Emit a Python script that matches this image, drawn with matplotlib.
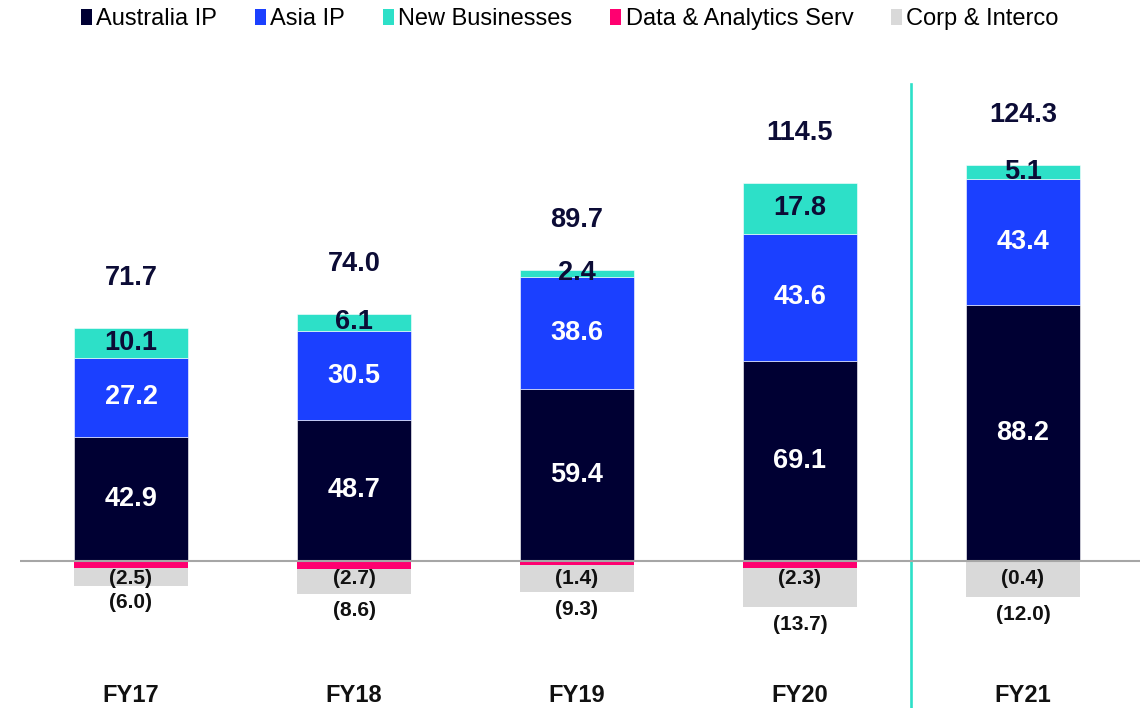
import matplotlib
matplotlib.use("Agg")
import matplotlib.pyplot as plt
from matplotlib.patches import Patch
import numpy as np

plt.rcParams['font.family'] = ['Liberation Sans', 'DejaVu Sans']

categories = ["FY17", "FY18", "FY19", "FY20", "FY21"]
australia_ip = [42.9, 48.7, 59.4, 69.1, 88.2]
asia_ip = [27.2, 30.5, 38.6, 43.6, 43.4]
new_businesses = [10.1, 6.1, 2.4, 17.8, 5.1]
data_analytics = [-2.5, -2.7, -1.4, -2.3, -0.4]
corp_interco = [-6.0, -8.6, -9.3, -13.7, -12.0]
totals = [71.7, 74.0, 89.7, 114.5, 124.3]

c_aus = "#000033"
c_asia = "#1b40ff"
c_new = "#2de0c8"
c_da = "#ff0070"
c_corp = "#d9d9d9"
c_text = "#0c0c36"

W, H = 1140, 708
fig = plt.figure(figsize=(W / 100, H / 100), dpi=100)
ax = fig.add_axes([20 / W, 0, 1120 / W, 1])

scale = 2.9  # px per unit
base_px = 561
ax.set_ylim(-(H - base_px) / scale, base_px / scale)
ax.set_xlim((20 - 131) / 223, (1140 - 131) / 223)
ax.axis('off')

x = np.arange(len(categories))
width = 0.51
aus = np.array(australia_ip)
asia = np.array(asia_ip)
new = np.array(new_businesses)
da = np.array(data_analytics)
corp = np.array(corp_interco)

ek = dict(edgecolor='white', linewidth=0.4)
ax.bar(x, aus, width, color=c_aus, **ek)
ax.bar(x, asia, width, bottom=aus, color=c_asia, **ek)
ax.bar(x, new, width, bottom=aus + asia, color=c_new, **ek)
ax.bar(x, da, width, color=c_da, linewidth=0)
ax.bar(x, corp, width, bottom=da, color=c_corp, linewidth=0)

ax.axhline(0, color="#a6a6a6", linewidth=1.5, zorder=3)
ax.axvline(3.5, ymin=0, ymax=1 - 84 / H, color=c_new, linewidth=1.9)

for i in range(len(categories)):
    ax.text(x[i], aus[i] / 2, f"{aus[i]:.1f}", ha='center', va='center',
            color='white', fontsize=19.5, fontweight='bold')
    ax.text(x[i], aus[i] + asia[i] / 2, f"{asia[i]:.1f}", ha='center', va='center',
            color='white', fontsize=19.5, fontweight='bold')
    ax.text(x[i], aus[i] + asia[i] + new[i] / 2, f"{new[i]:.1f}", ha='center', va='center',
            color=c_text, fontsize=19.5, fontweight='bold')
    top = aus[i] + asia[i] + new[i]
    ax.annotate(f"{totals[i]:.1f}", (x[i], top), xytext=(0, 36), textcoords='offset points',
                ha='center', va='center', color=c_text, fontsize=19.5, fontweight='bold')
    ax.annotate(f"({abs(da[i]):.1f})", (x[i], 0), xytext=(0, -12.5), textcoords='offset points',
                ha='center', va='center', color='#111111', fontsize=15, fontweight='bold')
    ax.annotate(f"({abs(corp[i]):.1f})", (x[i], da[i] + corp[i]), xytext=(0, -12.3),
                textcoords='offset points', ha='center', va='center', color='#111111',
                fontsize=15, fontweight='bold')
    ax.text(x[i], 1 - 695 / H, categories[i], transform=ax.get_xaxis_transform(),
            ha='center', va='center', color='#111111', fontsize=17, fontweight='bold')

handles = [Patch(facecolor=c, edgecolor='none') for c in [c_aus, c_asia, c_new, c_da, c_corp]]
labels = ["Australia IP", "Asia IP", "New Businesses", "Data & Analytics Serv", "Corp & Interco"]
fig.legend(handles, labels, loc='center', bbox_to_anchor=(0.5, 1 - 19 / H), ncol=5,
           frameon=False, fontsize=17, handlelength=0.45, handleheight=0.65,
           handletextpad=0.2, columnspacing=1.6, borderpad=0, borderaxespad=0)

fig.savefig("out.png", dpi=100)
